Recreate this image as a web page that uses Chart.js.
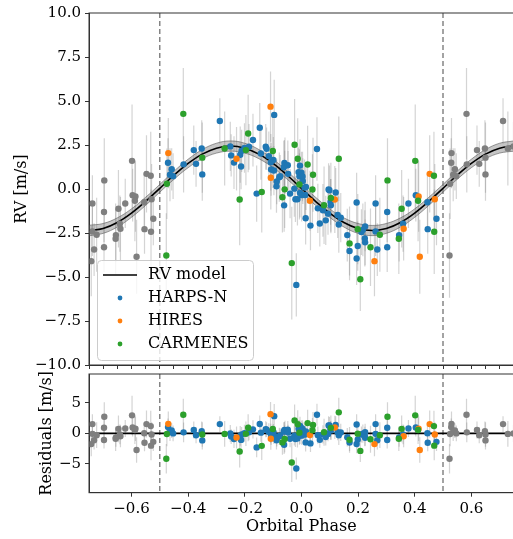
<!DOCTYPE html>
<html>
<head>
<meta charset="utf-8">
<script src="https://cdn.jsdelivr.net/npm/chart.js@4.4.0/dist/chart.umd.min.js"></script>
<style>
  html, body { margin: 0; padding: 0; background: #fff; overflow: hidden; width: 513px; height: 539px; }
  #wrap { position: relative; width: 513px; height: 539px; overflow: hidden; }
  canvas { position: absolute; left: 0; }
  #rvChart { top: 0; }
  #resChart { top: 340px; }
</style>
</head>
<body>
<div id="wrap">
  <canvas id="rvChart" width="517" height="378"></canvas>
  <canvas id="resChart" width="517" height="199"></canvas>
</div>
<script>
// --- data ---
const harpsPhase = [-0.471,-0.458,-0.464,-0.453,-0.416,-0.380,-0.372,-0.352,-0.350,-0.288,-0.251,-0.248,-0.238,-0.213,-0.216,-0.211,-0.201,-0.185,-0.171,-0.147,-0.158,-0.126,-0.123,-0.143,-0.115,-0.108,-0.099,-0.107,-0.097,-0.096,-0.087,-0.088,-0.078,-0.075,-0.062,-0.060,-0.058,-0.048,-0.047,-0.061,-0.040,-0.025,-0.021,-0.014,-0.010,-0.007,-0.005,-0.005,0.000,0.001,0.004,0.005,0.011,0.013,0.016,0.015,0.032,-0.018,0.055,0.058,0.065,0.076,0.086,0.094,0.096,0.099,0.103,0.104,0.121,0.128,0.132,0.139,0.162,0.170,0.195,0.195,0.199,0.212,0.217,0.225,0.224,0.225,0.262,0.262,0.268,0.303,0.303,0.345,0.359,0.378,0.404,0.445,0.446,0.477];
const harpsRV    = [1.49,1.12,0.81,0.73,1.40,2.21,1.43,2.30,0.83,3.86,2.42,1.91,1.50,1.28,1.95,2.17,2.33,2.40,2.78,3.48,-0.26,2.40,2.29,2.02,1.87,1.52,1.65,1.11,1.05,4.21,0.43,0.15,0.67,0.73,1.24,1.48,1.33,1.35,0.86,-0.93,-0.26,0.02,-0.58,-0.58,0.96,0.73,1.33,-0.22,0.92,-0.35,0.71,0.45,0.08,-0.34,0.11,-1.66,-2.08,-5.45,2.27,-1.10,-1.96,-1.21,-1.78,-1.40,-0.03,-0.07,-0.73,-0.93,-0.20,-1.48,-2.02,-1.63,-2.62,-3.52,-0.77,-3.95,-3.24,-2.45,-2.32,-2.13,-2.81,-3.03,-0.82,-2.41,-3.44,-1.31,-3.31,-2.62,-1.97,-0.82,-0.35,-0.75,-2.28,-1.69];
const harpsErr   = [1.4,1.2,1.5,1.3,1.6,1.4,1.3,1.6,1.5,1.3,1.4,1.2,1.5,1.3,1.6,1.2,1.4,1.3,1.5,1.4,1.6,1.3,1.2,1.5,1.4,1.6,1.3,1.5,1.4,2.0,1.3,1.5,1.4,1.2,1.5,1.3,1.6,1.4,1.3,1.5,1.4,1.6,1.3,1.5,1.4,1.3,1.5,1.4,1.2,1.5,1.4,1.3,1.6,1.4,1.3,1.5,1.4,1.8,1.8,1.4,1.3,1.5,1.4,1.2,1.5,1.4,1.3,1.5,1.4,1.3,1.6,1.4,1.5,1.4,1.7,1.5,1.4,1.3,1.5,1.4,1.6,1.3,1.6,1.4,1.5,1.7,1.4,1.5,1.6,1.4,1.5,1.6,1.4,1.5];

const hiresPhase = [-0.470,-0.229,-0.109,-0.108,0.030,0.118,0.258,0.361,0.414,0.418,0.453,0.471];
const hiresRV    = [2.04,1.72,4.68,0.64,-0.67,-0.60,-4.10,-2.26,-0.43,-3.85,0.86,-0.58];
const hiresErr   = [2.0,1.8,2.0,1.8,1.7,1.9,2.0,1.8,2.0,2.1,2.2,2.0];

const carmPhase = [-0.475,-0.477,-0.417,-0.350,-0.271,-0.218,-0.196,-0.188,-0.140,-0.101,-0.067,-0.059,-0.034,-0.024,-0.013,-0.007,0.022,0.039,0.041,0.080,0.104,0.132,0.170,0.199,0.208,0.244,0.277,0.304,0.344,0.354,0.402,0.412,0.468,0.469];
const carmRV    = [0.30,-3.78,4.27,1.78,2.30,-0.60,2.21,3.15,-0.17,2.16,-0.47,-0.02,-4.21,2.51,1.72,0.26,1.39,-0.03,0.81,-0.92,-0.51,1.72,-3.09,-2.28,-5.13,-3.31,-2.60,0.49,-2.83,-1.12,1.60,-0.67,0.75,-2.43];
const carmErr   = [2.0,2.4,2.6,2.0,2.1,2.6,2.0,2.2,2.3,2.1,2.0,2.2,3.2,2.6,2.3,2.0,2.2,2.0,2.1,2.2,2.0,2.4,2.1,2.0,1.8,2.2,2.1,2.4,2.0,2.2,3.2,2.3,2.5,2.4];

// RV model and its shaded band, sampled along phase
const modelPhase = [-0.75,-0.70,-0.65,-0.60,-0.55,-0.50,-0.45,-0.40,-0.35,-0.30,-0.25,-0.20,-0.15,-0.10,-0.05,0.00,0.05,0.10,0.15,0.20,0.25,0.30,0.35,0.40,0.45,0.50,0.55,0.60,0.65,0.70,0.75];
const modelRV = [-2.36,-2.24,-1.90,-1.37,-0.70,0.04,0.78,1.45,1.98,2.32,2.44,2.32,1.98,1.45,0.78,0.04,-0.70,-1.37,-1.90,-2.24,-2.36,-2.24,-1.90,-1.37,-0.70,0.04,0.78,1.45,1.98,2.32,2.44];
const modelHi = [-2.06,-1.96,-1.64,-1.13,-0.47,0.26,1.01,1.69,2.24,2.60,2.73,2.60,2.24,1.69,1.01,0.26,-0.47,-1.13,-1.64,-1.96,-2.07,-1.96,-1.64,-1.13,-0.47,0.26,1.01,1.69,2.24,2.60,2.73];
const modelLo = [-2.66,-2.52,-2.16,-1.61,-0.93,-0.18,0.55,1.21,1.72,2.04,2.15,2.04,1.72,1.21,0.55,-0.18,-0.93,-1.61,-2.16,-2.52,-2.65,-2.52,-2.16,-1.61,-0.93,-0.18,0.55,1.21,1.72,2.04,2.15];

const rvTicks = [-10,-7.5,-5,-2.5,0,2.5,5,7.5,10];
const resTicks = [-5,0,5];
const phaseTicks = [-0.6,-0.4,-0.2,0.0,0.2,0.4,0.6];
const instruments = ['HARPS-N','HIRES','CARMENES'];

const C_HARPS = '#1f77b4', C_HIRES = '#ff7f0e', C_CARM = '#2ca02c', C_GRAY = '#7f7f7f';
const FONT = "'DejaVu Serif', 'Liberation Serif', serif";

function modelAt(p) {
  for (let i = 0; i < modelPhase.length - 1; i++) {
    if (p >= modelPhase[i] && p <= modelPhase[i + 1]) {
      const t = (p - modelPhase[i]) / (modelPhase[i + 1] - modelPhase[i]);
      return modelRV[i] + t * (modelRV[i + 1] - modelRV[i]);
    }
  }
  return 0;
}

const fmt = (v, d) => (v < 0 ? '\u2212' : '') + Math.abs(v).toFixed(d);

function points(ph, vals, resid) {
  return ph.map((p, i) => ({ x: p, y: resid ? vals[i] - modelAt(p) : vals[i] }));
}

// wrapped copies shown in gray outside [-0.5, 0.5]
function wrapped(resid) {
  const pts = [], errs = [];
  [[harpsPhase, harpsRV, harpsErr], [hiresPhase, hiresRV, hiresErr], [carmPhase, carmRV, carmErr]].forEach(([ph, v, e]) => {
    ph.forEach((p, i) => {
      const y = resid ? v[i] - modelAt(p) : v[i];
      if (p > 0.25) { pts.push({ x: p - 1, y }); errs.push(e[i]); }
      if (p < -0.25) { pts.push({ x: p + 1, y }); errs.push(e[i]); }
    });
  });
  return { pts, errs };
}

function scatterSet(label, data, errs, color, order) {
  return { type: 'scatter', label, data, errs, backgroundColor: color, borderWidth: 0,
           pointRadius: 3.2, pointHoverRadius: 3.2, order };
}

const decor = {
  id: 'decor',
  beforeDatasetsDraw(chart) {
    const { ctx, chartArea: a, scales: { x, y } } = chart;
    ctx.save();
    ctx.beginPath();
    ctx.rect(a.left, a.top, a.right - a.left, a.bottom - a.top);
    ctx.clip();
    ctx.strokeStyle = '#666';
    ctx.lineWidth = 1.2;
    ctx.setLineDash([5, 3]);
    [-0.5, 0.5].forEach(v => {
      const px = x.getPixelForValue(v);
      ctx.beginPath(); ctx.moveTo(px, a.top); ctx.lineTo(px, a.bottom); ctx.stroke();
    });
    ctx.setLineDash([]);
    ctx.strokeStyle = 'rgba(128,128,128,0.34)';
    ctx.lineWidth = 1.2;
    chart.data.datasets.forEach(ds => {
      if (!ds.errs) return;
      ds.data.forEach((p, i) => {
        const px = x.getPixelForValue(p.x);
        ctx.beginPath();
        ctx.moveTo(px, y.getPixelForValue(p.y - ds.errs[i]));
        ctx.lineTo(px, y.getPixelForValue(p.y + ds.errs[i]));
        ctx.stroke();
      });
    });
    ctx.restore();
  },
  afterDraw(chart) {
    const { ctx, chartArea: a } = chart;
    ctx.save();
    ctx.strokeStyle = '#333';
    ctx.lineWidth = 1;
    ctx.strokeRect(a.left, a.top, a.right - a.left, a.bottom - a.top);
    ctx.restore();
  }
};

const legendBox = {
  id: 'legendBox',
  afterDraw(chart) {
    const ctx = chart.ctx;
    const bx = 97.5, by = 260.5, bw = 156, bh = 100;
    ctx.save();
    ctx.fillStyle = 'rgba(255,255,255,0.8)';
    ctx.strokeStyle = '#cccccc';
    ctx.lineWidth = 1;
    ctx.beginPath();
    ctx.roundRect(bx, by, bw, bh, 4);
    ctx.fill();
    ctx.stroke();
    ctx.font = '16px ' + FONT;
    ctx.fillStyle = '#000';
    ctx.textBaseline = 'middle';
    const rows = [275, 298, 321, 344];
    ctx.strokeStyle = '#000';
    ctx.lineWidth = 1.6;
    ctx.beginPath(); ctx.moveTo(103, rows[0]); ctx.lineTo(137, rows[0]); ctx.stroke();
    ctx.fillText('RV model', 148, rows[0]);
    [C_HARPS, C_HIRES, C_CARM].forEach((c, i) => {
      ctx.fillStyle = c;
      ctx.beginPath(); ctx.arc(120, rows[i + 1], 2.4, 0, Math.PI * 2); ctx.fill();
      ctx.fillStyle = '#000';
      ctx.fillText(instruments[i], 148, rows[i + 1]);
    });
    ctx.restore();
  }
};

Chart.defaults.font.family = FONT;
Chart.defaults.color = '#000';

// --- top panel: RV vs orbital phase ---
const grayTop = wrapped(false);
new Chart(document.getElementById('rvChart'), {
  type: 'scatter',
  data: {
    datasets: [
      { type: 'line', data: modelPhase.map((p, i) => ({ x: p, y: modelHi[i] })), borderColor: 'rgba(90,90,90,0.6)',
        borderWidth: 1, backgroundColor: 'rgba(128,128,128,0.45)', fill: '+1', pointRadius: 0, tension: 0.4, order: 12 },
      { type: 'line', data: modelPhase.map((p, i) => ({ x: p, y: modelLo[i] })), borderColor: 'rgba(90,90,90,0.6)',
        borderWidth: 1, fill: false, pointRadius: 0, tension: 0.4, order: 11 },
      { type: 'line', data: modelPhase.map((p, i) => ({ x: p, y: modelRV[i] })), borderColor: '#000',
        borderWidth: 1.6, fill: false, pointRadius: 0, tension: 0.4, order: 10 },
      scatterSet('gray', grayTop.pts, grayTop.errs, C_GRAY, 5),
      scatterSet('HARPS-N', points(harpsPhase, harpsRV), harpsErr, C_HARPS, 3),
      scatterSet('HIRES', points(hiresPhase, hiresRV), hiresErr, C_HIRES, 2),
      scatterSet('CARMENES', points(carmPhase, carmRV), carmErr, C_CARM, 1)
    ]
  },
  options: {
    responsive: false,
    animation: false,
    events: [],
    layout: { padding: { top: 10, right: 1, left: 0, bottom: 0 } },
    plugins: { legend: { display: false }, tooltip: { enabled: false } },
    scales: {
      x: {
        type: 'linear', min: -0.75, max: 0.75,
        afterBuildTicks: s => { const t = []; for (let k = -15; k <= 15; k++) t.push({ value: k * 0.05 }); s.ticks = t; },
        afterFit: s => { s.height = 11; },
        ticks: { display: false },
        grid: { drawOnChartArea: false, drawTicks: true, tickLength: 4, color: '#333' },
        border: { display: true, color: '#333' }
      },
      y: {
        min: -10, max: 10,
        afterBuildTicks: s => { s.ticks = rvTicks.map(v => ({ value: v })); },
        afterFit: s => { s.width = 89; },
        ticks: { font: { size: 15 }, padding: 4, callback: v => fmt(v, 1) },
        grid: { drawOnChartArea: false, drawTicks: true, tickLength: 4, color: '#333' },
        border: { display: true, color: '#333' },
        title: { display: true, text: 'RV [m/s]', font: { size: 16 }, padding: { top: 12, bottom: 0 } }
      }
    }
  },
  plugins: [decor, legendBox]
});

// --- bottom panel: residuals ---
const grayRes = wrapped(true);
new Chart(document.getElementById('resChart'), {
  type: 'scatter',
  data: {
    datasets: [
      { type: 'line', data: [{ x: -0.75, y: 0 }, { x: 0.75, y: 0 }], borderColor: '#000', borderWidth: 1.6,
        fill: false, pointRadius: 0, order: 10 },
      scatterSet('gray', grayRes.pts, grayRes.errs, C_GRAY, 5),
      scatterSet('HARPS-N', points(harpsPhase, harpsRV, true), harpsErr, C_HARPS, 3),
      scatterSet('HIRES', points(hiresPhase, hiresRV, true), hiresErr, C_HIRES, 2),
      scatterSet('CARMENES', points(carmPhase, carmRV, true), carmErr, C_CARM, 1)
    ]
  },
  options: {
    responsive: false,
    animation: false,
    events: [],
    layout: { padding: { top: 34, right: 1, left: 0, bottom: 0 } },
    plugins: { legend: { display: false }, tooltip: { enabled: false } },
    scales: {
      x: {
        type: 'linear', min: -0.75, max: 0.75,
        afterBuildTicks: s => { s.ticks = phaseTicks.map(v => ({ value: v })); },
        afterFit: s => { s.height = 46.3; },
        ticks: { font: { size: 15 }, padding: 3, maxRotation: 0, callback: v => fmt(v, 1) },
        grid: { drawOnChartArea: false, drawTicks: true, tickLength: 4, color: '#333' },
        border: { display: true, color: '#333' },
        title: { display: true, text: 'Orbital Phase', font: { size: 16 }, padding: { top: 0, bottom: 3 } }
      },
      y: {
        min: -9.7, max: 9.7,
        afterBuildTicks: s => { s.ticks = resTicks.map(v => ({ value: v })); },
        afterFit: s => { s.width = 89; },
        ticks: { font: { size: 15 }, padding: 4, callback: v => fmt(v, 0) },
        grid: { drawOnChartArea: false, drawTicks: true, tickLength: 4, color: '#333' },
        border: { display: true, color: '#333' },
        title: { display: true, text: 'Residuals [m/s]', font: { size: 16 }, padding: { top: 37, bottom: 0 } }
      }
    }
  },
  plugins: [decor]
});
</script>
</body>
</html>
